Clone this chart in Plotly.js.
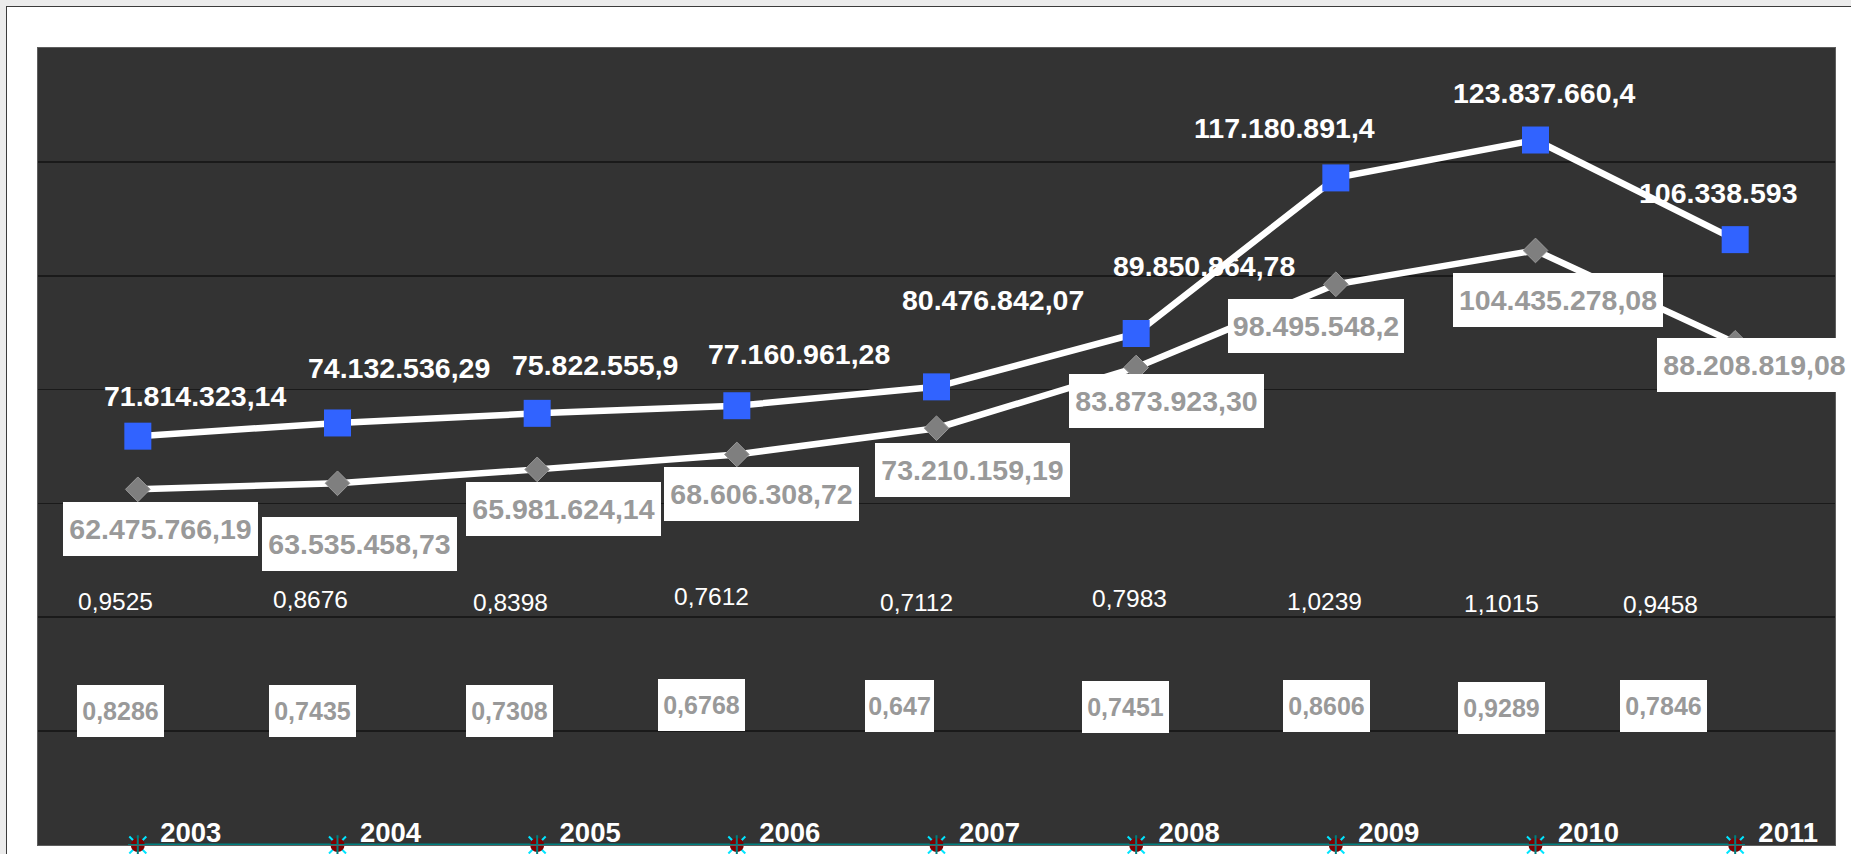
<!DOCTYPE html>
<html>
<head>
<meta charset="utf-8">
<script src="https://cdn.plot.ly/plotly-3.0.1.min.js"></script>
<style>
  html, body { margin: 0; padding: 0; background: #ececec; overflow: hidden; }
  #frame { position: absolute; left: 6px; top: 6px; width: 1900px; height: 900px;
           background: #ffffff; border-left: 1.5px solid #3c3c3c; border-top: 1.5px solid #3c3c3c; }
  #chart { position: absolute; left: 0; top: 0; width: 1851px; height: 854px; }
</style>
</head>
<body>
<div id="frame"></div>
<div id="chart"></div>
<script>
// ---- data ----
const years = ['2003', '2004', '2005', '2006', '2007', '2008', '2009', '2010', '2011'];

const seriesBlue = [71814323.14, 74132536.29, 75822555.9, 77160961.28, 80476842.07,
                    89850864.78, 117180891.4, 123837660.4, 106338593];
const blueLabels = ['71.814.323,14', '74.132.536,29', '75.822.555,9', '77.160.961,28', '80.476.842,07',
                    '89.850.864,78', '117.180.891,4', '123.837.660,4', '106.338.593'];

const seriesGray = [62475766.19, 63535458.73, 65981624.14, 68606308.72, 73210159.19,
                    83873923.30, 98495548.2, 104435278.08, 88208819.08];
const grayLabels = ['62.475.766,19', '63.535.458,73', '65.981.624,14', '68.606.308,72', '73.210.159,19',
                    '83.873.923,30', '98.495.548,2', '104.435.278,08', '88.208.819,08'];

const ratioA = [0.9525, 0.8676, 0.8398, 0.7612, 0.7112, 0.7983, 1.0239, 1.1015, 0.9458];
const ratioB = [0.8286, 0.7435, 0.7308, 0.6768, 0.647, 0.7451, 0.8606, 0.9289, 0.7846];

// ---- label placement (pixel offsets, styling only) ----
const blueShift  = [[57, 40], [61, 55], [58, 48], [62, 52], [56, 87], [68, 67], [-51, 50], [8, 47], [-17, 47]];
const grayShift  = [[23, -40], [22, -61], [26, -40], [25, -40], [36, -42], [30, -33], [-20, -42], [22, -50], [19, -22]];
const ratioAShift = [[-22, 244], [-27, 246], [-27, 243], [-25, 249], [-20, 243], [-7, 247], [-11, 244], [-34, 242], [-75, 241]];
const ratioBShift = [[-17, 134], [-25, 134], [-28, 134], [-35, 140], [-37, 139], [-11, 138], [-9, 139], [-34, 137], [-72, 139]];

const FONT = 'Liberation Sans, Arial, Helvetica, sans-serif';
const fmtRatio = v => String(v).replace('.', ',');

const traces = [
  { x: years, y: ratioB, type: 'scatter', mode: 'markers', cliponaxis: false,
    marker: { symbol: 'x-thin', size: 17, line: { color: '#00e5ff', width: 2 } }, hoverinfo: 'skip' },
  { x: years, y: ratioA, type: 'scatter', mode: 'lines+markers', cliponaxis: false,
    line: { color: '#008080', width: 3 },
    marker: { symbol: 'circle', size: 14, color: '#800000' }, hoverinfo: 'skip' },
  { x: years, y: ratioA, type: 'scatter', mode: 'markers', cliponaxis: false,
    marker: { symbol: 'cross-thin', size: 14, line: { color: '#007f7f', width: 2 } }, hoverinfo: 'skip' },
  { x: years, y: seriesGray, type: 'scatter', mode: 'lines+markers', cliponaxis: false,
    line: { color: '#ffffff', width: 6.5 },
    marker: { symbol: 'diamond', size: 19, color: '#7f7f7f', line: { color: '#999999', width: 1 } }, hoverinfo: 'skip' },
  { x: years, y: seriesBlue, type: 'scatter', mode: 'lines+markers', cliponaxis: false,
    line: { color: '#ffffff', width: 6.5 },
    marker: { symbol: 'square', size: 27, color: '#3163ff' }, hoverinfo: 'skip' }
];

// annotations use the category index (year strings look numeric to the annotation code)
const annotations = [];
years.forEach((yr, i) => {
  annotations.push({ x: i, y: seriesBlue[i], xref: 'x', yref: 'y', showarrow: false,
    text: blueLabels[i], xshift: blueShift[i][0], yshift: blueShift[i][1],
    font: { family: FONT, size: 28.5, color: '#ffffff', weight: 'bold' } });
  const gw = grayLabels[i].length >= 14 ? 210 : (grayLabels[i].length <= 12 ? 176 : 195);
  annotations.push({ x: i, y: seriesGray[i], xref: 'x', yref: 'y', showarrow: false,
    text: grayLabels[i], xshift: grayShift[i][0], yshift: grayShift[i][1],
    bgcolor: '#ffffff', borderpad: 0, borderwidth: 0, width: gw, height: 54, align: 'center', valign: 'middle',
    font: { family: FONT, size: 28.5, color: '#999999', weight: 'bold' } });
  annotations.push({ x: i, y: ratioA[i], xref: 'x', yref: 'y', showarrow: false,
    text: fmtRatio(ratioA[i]), xshift: ratioAShift[i][0], yshift: ratioAShift[i][1],
    font: { family: FONT, size: 24.5, color: '#ffffff' } });
  const rt = fmtRatio(ratioB[i]);
  annotations.push({ x: i, y: ratioB[i], xref: 'x', yref: 'y', showarrow: false,
    text: rt, xshift: ratioBShift[i][0], yshift: ratioBShift[i][1],
    bgcolor: '#ffffff', borderpad: 0, borderwidth: 0, width: rt.length <= 5 ? 69 : 87, height: 52,
    align: 'center', valign: 'middle',
    font: { family: FONT, size: 25, color: '#999999', weight: 'bold' } });
});

const layout = {
  width: 1851, height: 854,
  margin: { l: 38, r: 16, t: 48, b: 9, pad: 0 },
  paper_bgcolor: 'rgba(0,0,0,0)',
  plot_bgcolor: '#333333',
  showlegend: false,
  font: { family: FONT },
  xaxis: {
    type: 'category', range: [-0.5, 8.5], fixedrange: true,
    showgrid: false, zeroline: false,
    showline: true, mirror: true, linecolor: '#5e5e5e', linewidth: 1,
    ticks: '', ticklabelposition: 'inside', ticklabelshift: 53, ticklabeloverflow: 'allow',
    tickfont: { family: FONT, size: 27.5, color: '#ffffff', weight: 'bold' }
  },
  yaxis: {
    range: [0, 140000000], dtick: 20000000, fixedrange: true,
    showgrid: true, gridcolor: '#1a1a1a', gridwidth: 1.6,
    zeroline: false, showticklabels: false, ticks: '',
    showline: true, mirror: true, linecolor: '#5e5e5e', linewidth: 1
  },
  annotations: annotations
};

Plotly.newPlot('chart', traces, layout, { staticPlot: true, displayModeBar: false });
</script>
</body>
</html>
